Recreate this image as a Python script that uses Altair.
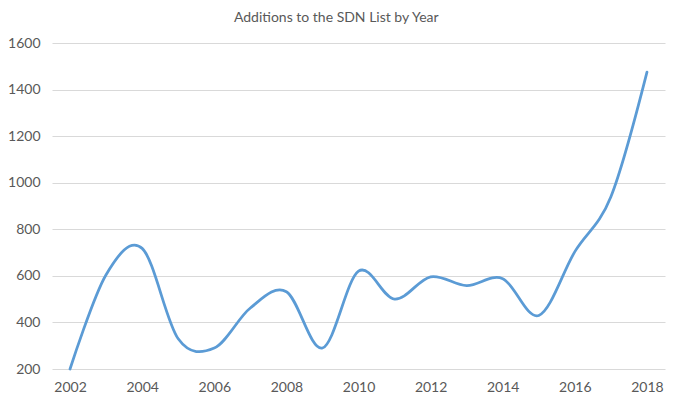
import altair as alt
import pandas as pd

years = list(range(2002, 2019))
additions = [200, 605, 718, 330, 290, 462, 532, 290, 620, 500, 596, 558, 588, 430, 704, 940, 1475]
year_ticks = [2002, 2004, 2006, 2008, 2010, 2012, 2014, 2016, 2018]
value_ticks = [200, 400, 600, 800, 1000, 1200, 1400, 1600]
title_text = "Additions to the SDN List by Year"

df = pd.DataFrame({"year": years, "additions": additions})

FONT = "Lato"
TXT = "#595959"

chart = alt.Chart(df).mark_line(
    interpolate="cardinal", color="#5B9BD5", strokeWidth=2.75, strokeCap="round"
).encode(
    x=alt.X(
        "year:Q",
        scale=alt.Scale(domain=[2001.5, 2018.5], nice=False, zero=False),
        axis=alt.Axis(values=year_ticks, format="d", title=None, grid=False, ticks=False,
                      domain=False, labelPadding=11, labelFontSize=14, labelColor=TXT,
                      labelFont=FONT),
    ),
    y=alt.Y(
        "additions:Q",
        scale=alt.Scale(domain=[200, 1600], nice=False, zero=False),
        axis=alt.Axis(values=value_ticks, format="d", title=None, ticks=False, domain=False,
                      gridColor="#D9D9D9", gridWidth=1, labelPadding=12, labelFontSize=14,
                      labelColor=TXT, labelFont=FONT),
    ),
).properties(
    width=613,
    height=326,
    title=alt.TitleParams(title_text, frame="bounds", anchor="middle", offset=11,
                          fontSize=14, font=FONT, fontWeight="normal", color=TXT),
    autosize=alt.AutoSizeParams(type="none"),
    padding={"left": 44, "top": 35, "right": 2, "bottom": 27},
).configure_view(stroke=None)

chart.save("out.html", embed_options={"renderer": "svg", "actions": False})
